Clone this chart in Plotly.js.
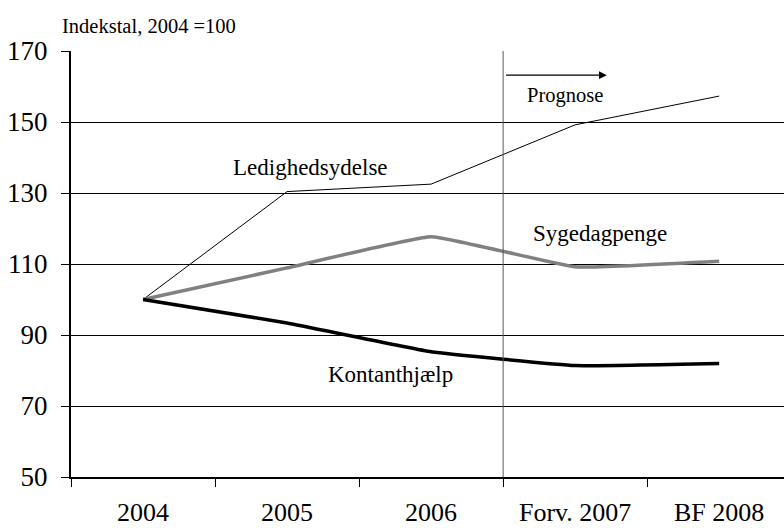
<!DOCTYPE html>
<html>
<head>
<meta charset="utf-8">
<script src="https://cdn.plot.ly/plotly-3.0.1.min.js"></script>
<style>html,body{margin:0;padding:0;background:#fff;}#chart{width:784px;height:528px;}</style>
</head>
<body>
<div id="chart"></div>
<script>
const categories = ["2004", "2005", "2006", "Forv. 2007", "BF 2008"];
const ledighedsydelse = [100, 130.4, 132.5, 149.2, 157.3];
const sygedagpenge = [100, 108.9, 117.7, 109.2, 110.8];
const kontanthjaelp = [100, 93.4, 85.3, 81.4, 82.0];
const yTicks = [50, 70, 90, 110, 130, 150, 170];

const font = "'Liberation Serif', 'DejaVu Serif', serif";

const traces = [
  {x: categories, y: ledighedsydelse, mode: "lines", name: "Ledighedsydelse",
   line: {color: "#000000", width: 1}},
  {x: categories, y: sygedagpenge, mode: "lines", name: "Sygedagpenge",
   line: {color: "#808080", width: 3.5, shape: "spline", smoothing: 0.3}},
  {x: categories, y: kontanthjaelp, mode: "lines", name: "Kontanthjælp",
   line: {color: "#000000", width: 3.5, shape: "spline", smoothing: 0.3}}
];

const layout = {
  width: 784, height: 528,
  margin: {l: 71, r: 0, t: 51, b: 51},
  paper_bgcolor: "#ffffff", plot_bgcolor: "#ffffff",
  showlegend: false,
  font: {family: font, color: "#000000", size: 27},
  xaxis: {
    type: "category",
    range: [-0.5, 4.45],
    tickson: "boundaries",
    showgrid: false, zeroline: false,
    showline: true, linecolor: "#000000", linewidth: 1.5,
    ticks: "outside", ticklen: 8, tickcolor: "#000000", tickwidth: 1,
    tickfont: {family: font, size: 26, color: "#000000"},
    ticklabelstandoff: 11
  },
  yaxis: {
    range: [50, 170],
    tickmode: "array", tickvals: yTicks, ticktext: yTicks.map(String),
    showgrid: true, gridcolor: "#000000", gridwidth: 1,
    zeroline: false,
    showline: true, linecolor: "#000000", linewidth: 2,
    ticks: "outside", ticklen: 8, tickcolor: "#000000", tickwidth: 1,
    tickfont: {family: font, size: 27, color: "#000000"},
    ticklabelstandoff: 8
  },
  shapes: [
    {type: "line", xref: "x", yref: "paper", x0: 2.5, x1: 2.5, y0: 0, y1: 1,
     line: {color: "#555555", width: 1}}
  ],
  annotations: [
    {xref: "paper", yref: "paper", x: -0.016, y: 1.028, xanchor: "left", yanchor: "bottom",
     text: "Indekstal, 2004 =100", showarrow: false, font: {family: font, size: 20.5}},
    {xref: "x", yref: "y", x: 1.16, y: 137.3, text: "Ledighedsydelse", showarrow: false,
     font: {family: font, size: 23}},
    {xref: "x", yref: "y", x: 3.17, y: 118.5, text: "Sygedagpenge", showarrow: false,
     font: {family: font, size: 23}},
    {xref: "x", yref: "y", x: 1.72, y: 79.0, text: "Kontanthjælp", showarrow: false,
     font: {family: font, size: 23}},
    {xref: "x", yref: "y", x: 2.93, y: 157.6, text: "Prognose", showarrow: false,
     font: {family: font, size: 20.5}},
    {xref: "x", yref: "y", axref: "x", ayref: "y",
     x: 3.22, y: 163.2, ax: 2.51, ay: 163.2, text: "",
     showarrow: true, arrowhead: 2, arrowsize: 1.3, arrowwidth: 1.2, arrowcolor: "#000000"}
  ]
};

Plotly.newPlot("chart", traces, layout, {displayModeBar: false, staticPlot: true});
</script>
</body>
</html>
